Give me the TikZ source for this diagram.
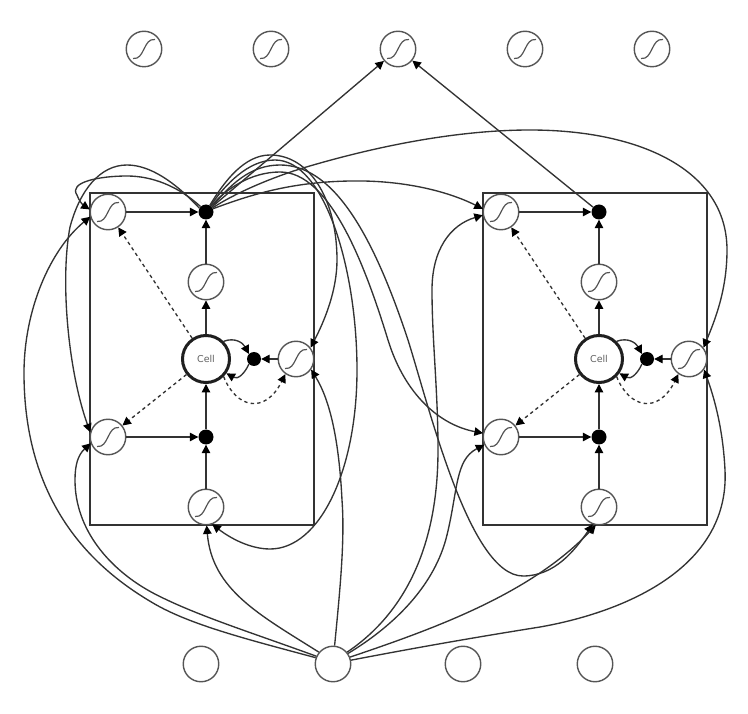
\documentclass[tikz,border=0pt]{standalone}
\usepackage{fontspec}
\setmainfont{DejaVu Sans}
\usetikzlibrary{arrows.meta}
\definecolor{ln}{HTML}{333333}
\definecolor{rim}{HTML}{555555}
\tikzset{
  wire/.style={draw=ln,line width=1.35pt,-{Triangle[length=8.5pt,width=8.5pt,color=black]}},
  dash wire/.style={wire,dash pattern=on 3.4pt off 3.2pt},
  ring/.style={circle,draw=rim,line width=1.4pt,fill=white,minimum size=35.5pt,inner sep=0pt},
  sig/.style={ring,path picture={\draw[rim,line width=1.2pt,x=1pt,y=-1pt,shift={(path picture bounding box.center)}]
     (-11,9.5) .. controls (-5,10) and (-3,6) .. (0,0) .. controls (3,-6) and (5,-10) .. (11,-9.5);}},
  dot/.style={circle,fill=black,minimum size=15pt,inner sep=0pt},
  cellring/.style={circle,draw=black!88,line width=3pt,fill=white,minimum size=47pt,inner sep=0pt,
     font=\fontsize{9.5}{11}\selectfont,text=black!62},
  frame/.style={draw=ln,line width=1.5pt}
}
\newcommand{\lstmunit}[2]{%
  \begin{scope}[shift={(#2,0)}]
    \node[frame,minimum width=224pt,minimum height=332pt,inner sep=0pt] (#1box) at (202,359) {};
    \node[sig] (#1sa) at (108,212) {};
    \node[dot] (#1da) at (206,212) {};
    \node[sig] (#1sc) at (206,282) {};
    \node[cellring] (#1cell) at (206,359) {Cell};
    \node[dot,minimum size=14pt] (#1dm) at (254,359) {};
    \node[sig] (#1sr) at (296,359) {};
    \node[sig] (#1sb) at (108,437) {};
    \node[dot] (#1db) at (206,437) {};
    \node[sig] (#1sd) at (206,507) {};
  \end{scope}
  \draw[wire] (#1sa) -- (#1da);
  \draw[wire] (#1sc) -- (#1da);
  \draw[wire] (#1cell) -- (#1sc);
  \draw[wire] (#1sb) -- (#1db);
  \draw[wire] (#1sd) -- (#1db);
  \draw[wire] (#1db) -- (#1cell);
  \draw[wire] (#1sr) -- (#1dm);
  \draw[dash wire] (#1cell) -- (#1sa);
  \draw[dash wire] (#1cell) -- (#1sb);
  \begin{scope}[shift={(#2,0)}]
    \draw[dash wire] (#1cell.-45) .. controls (236,408) and (265,415) .. (#1sr.-125);
    \draw[wire] (#1cell.45) .. controls (235,337) and (243,343) .. (#1dm.135);
    \draw[wire] (#1dm.-135) .. controls (245,373) and (238,380) .. (#1cell.-35);
  \end{scope}
}
\begin{document}
\begin{tikzpicture}[x=1pt,y=-1pt]
\useasboundingbox (0,0) rectangle (748,714);
\foreach \n/\x in {1/144,2/271,3/398,4/525,5/652} \node[sig] (o\n) at (\x,49) {};
\node[ring] (i1) at (201,664) {};
\node[ring] (in) at (333,664) {};
\node[ring] (i3) at (463,664) {};
\node[ring] (i4) at (595,664) {};
\lstmunit{l}{0}
\lstmunit{r}{393}
% outputs
\draw[wire] (lda) -- (o3);
\draw[wire] (rda) -- (o3);
% recurrent from left output dot
\draw[wire] (lda.135) .. controls (178,186) and (152,176) .. (127,176) .. controls (100,176) and (68,182) .. (77,195) .. controls (79,201) and (83,205) .. (lsa.172);
\draw[wire] (lda.150) .. controls (175,182) and (150,165) .. (127,165) .. controls (100,165) and (80,190) .. (70,227) .. controls (60,280) and (68,370) .. (lsb.165);
\draw[wire] (lda.60) .. controls (225,180) and (245,155) .. (270,155) .. controls (310,155) and (337,200) .. (337,260) .. controls (337,290) and (325,320) .. (lsr.38);
\draw[wire] (lda.55) .. controls (225,185) and (248,160) .. (275,160) .. controls (325,160) and (357,270) .. (357,370) .. controls (357,470) and (320,549) .. (270,549) .. controls (250,549) and (230,538) .. (lsd.-70);
\draw[wire] (lda.25) .. controls (250,195) and (290,182) .. (350,181) .. controls (400,180) and (445,190) .. (rsa.170);
\draw[wire] (lda.32) .. controls (240,190) and (280,175) .. (303,168) .. controls (380,145) and (460,130) .. (530,130) .. controls (640,130) and (727,170) .. (727,250) .. controls (727,290) and (715,320) .. (rsr.38);
\draw[wire] (lda.50) .. controls (225,190) and (250,172) .. (280,172) .. controls (330,172) and (365,265) .. (388,340) .. controls (405,395) and (440,425) .. (rsb.168);
\draw[wire] (lda.40) .. controls (230,185) and (250,165) .. (280,165) .. controls (330,165) and (370,225) .. (408,340) .. controls (430,410) and (470,576) .. (523,576) .. controls (555,576) and (575,550) .. (rsd.-110);
% from the input
\draw[wire] (in.160) .. controls (250,640) and (190,625) .. (153,603) .. controls (100,572) and (24,510) .. (24,373) .. controls (24,310) and (50,250) .. (lsa.195);
\draw[wire] (in.155) .. controls (250,632) and (195,615) .. (153,593) .. controls (110,570) and (75,530) .. (75,480) .. controls (75,465) and (78,455) .. (lsb.200);
\draw[wire] (in.140) .. controls (260,615) and (212,590) .. (lsd.-88);
\draw[wire] (in.85) .. controls (340,590) and (345,540) .. (342,500) .. controls (339,440) and (330,400) .. (lsr.-35);
\draw[wire] (in.35) .. controls (395,625) and (435,585) .. (447,535) .. controls (458,490) and (455,460) .. (rsb.205);
\draw[wire] (in.40) .. controls (395,620) and (438,560) .. (438,450) .. controls (438,390) and (432,340) .. (432,290) .. controls (432,250) and (450,225) .. (rsa.190);
\draw[wire] (in.22) .. controls (430,630) and (530,595) .. (rsd.-100);
\draw[wire] (in.12) .. controls (430,645) and (490,635) .. (540,627) .. controls (620,613) and (730,570) .. (725,470) .. controls (723,430) and (715,400) .. (rsr.-35);
\end{tikzpicture}
\end{document}
